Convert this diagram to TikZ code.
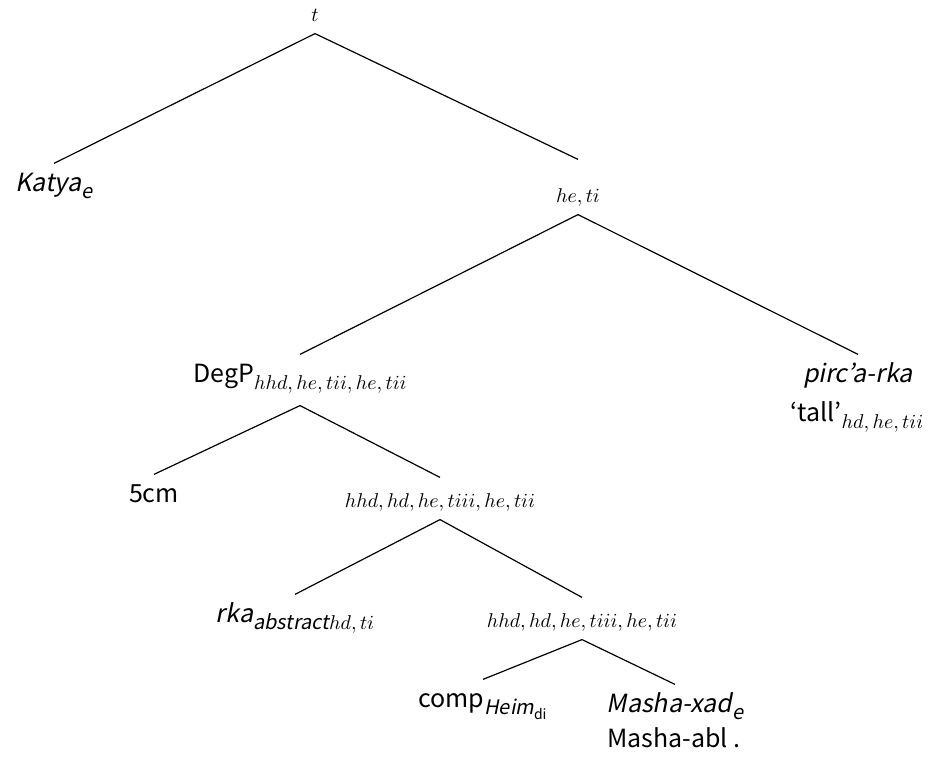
\documentclass[tikz,border=0pt]{standalone}
\usepackage{fontspec}
\setmainfont{Noto Sans CJK JP}[ItalicFont=Noto Sans CJK JP, ItalicFeatures={FakeSlant=0.2}]
\usepackage{tikz}
\usetikzlibrary{positioning}
\newcommand{\lo}[1]{\raisebox{-3.5pt}{\fontsize{10}{12}\selectfont #1}}

\begin{document}
\begin{tikzpicture}[x=0.5pt,y=-0.5pt,line width=0.6pt,
  big/.style={inner sep=0pt, anchor=base, font=\fontsize{12.5}{15}\selectfont, text height=14pt, text depth=11pt},
  small/.style={inner sep=0pt, anchor=base, font=\fontsize{10}{12}\selectfont, text height=15pt, text depth=5.5pt}]
\useasboundingbox (0,0) rectangle (934,769);
\node[small] (t) at (315,22) {$t$};
\node[big] (katya) at (54,192) {\textit{Katya}\lo{\textit{e}}};
\node[small, text height=21.5pt] (et) at (578,203) {$he, ti$};
\node[big] (degp) at (300,383) {DegP\lo{$hhd, he, tii, he, tii$}};
\node[big] (pirc) at (858,383) {\textit{pirc'a-rka}};
\node[big] (tall) at (857,422) {`tall'\lo{$hd, he, tii$}};
\node[big] (cm) at (154,503) {5cm};
\node[small] (dd) at (440,508) {$hhd, hd, he, tiii, he, tii$};
\node[big] (rka) at (295,623) {\textit{rka}\lo{\textit{abstract}$hd, ti$}};
\node[small] (ddd) at (582,628) {$hhd, hd, he, tiii, he, tii$};
\node[big] (comp) at (483,708) {comp\lo{\textit{Heim}\textsubscript{di}}};
\node[big] (masha) at (675,713) {\textit{Masha-xad}\lo{\textit{e}}};
\node[big] (abl) at (674,748) {Masha-abl .};
\draw (t.south) -- (katya.north);
\draw (t.south) -- (et.north);
\draw (et.south) -- (degp.north);
\draw (et.south) -- (pirc.north);
\draw (degp.south) -- (cm.north);
\draw (degp.south) -- (dd.north);
\draw (dd.south) -- (rka.north);
\draw (dd.south) -- (ddd.north);
\draw (ddd.south) -- (comp.north);
\draw (ddd.south) -- (masha.north);
\end{tikzpicture}
\end{document}
